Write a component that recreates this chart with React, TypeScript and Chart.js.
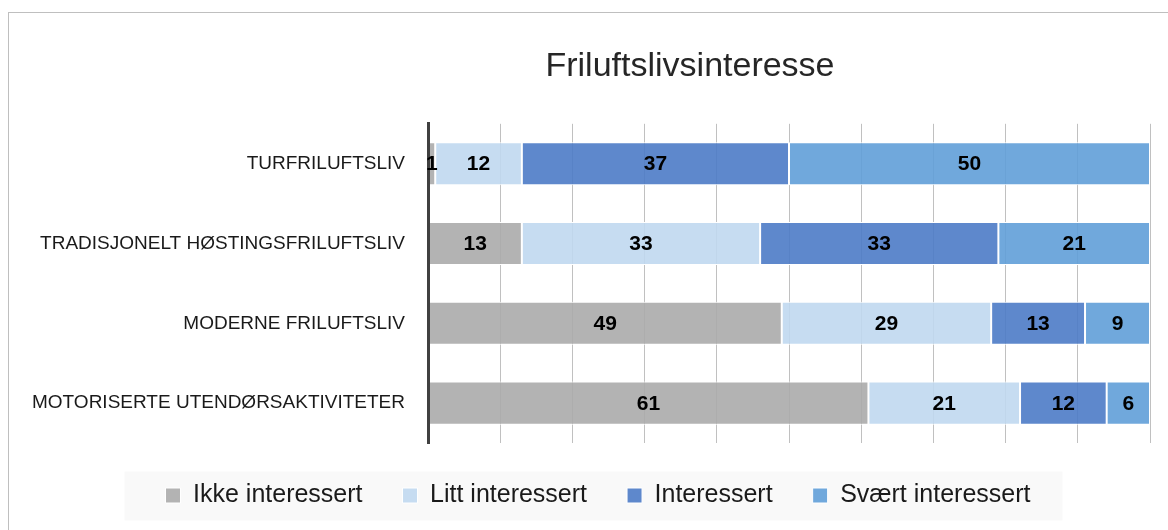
import React, { useEffect, useRef } from "react";
import { Chart, registerables } from "chart.js";

Chart.register(...registerables);

const chartTitle = "Friluftslivsinteresse";
const categories = [
  "TURFRILUFTSLIV",
  "TRADISJONELT HØSTINGSFRILUFTSLIV",
  "MODERNE FRILUFTSLIV",
  "MOTORISERTE UTENDØRSAKTIVITETER",
];
const seriesNames = ["Ikke interessert", "Litt interessert", "Interessert", "Svært interessert"];
const ikkeInteressert = [1, 13, 49, 61];
const littInteressert = [12, 33, 29, 21];
const interessert = [37, 33, 13, 12];
const svaertInteressert = [50, 21, 9, 6];
const seriesColors = [
  "rgba(171,171,171,0.9)",
  "rgba(192,216,239,0.9)",
  "rgba(77,123,198,0.9)",
  "rgba(97,159,216,0.9)",
];

const FONT = "'Liberation Sans', Arial, sans-serif";

const valueLabels = {
  id: "valueLabels",
  afterDraw(chart: any) {
    const ctx = chart.ctx;
    ctx.save();
    ctx.font = `bold 21px ${FONT}`;
    ctx.fillStyle = "#000";
    ctx.textAlign = "center";
    ctx.textBaseline = "middle";
    chart.data.datasets.forEach((ds: any, i: number) => {
      const meta = chart.getDatasetMeta(i);
      meta.data.forEach((bar: any, j: number) => {
        const p = bar.getProps(["x", "base", "y"], true);
        ctx.fillText(String(ds.data[j]), (p.x + p.base) / 2, p.y + 1);
      });
    });
    ctx.restore();
  },
};

const layoutShift = {
  id: "layoutShift",
  afterLayout(chart: any) {
    const t = chart.titleBlock;
    if (t) {
      const dx = 690 - (t.left + t.right) / 2;
      t.left += dx;
      t.right += dx;
    }
    const l = chart.legend;
    if (l) {
      const dx = 598 - (l.left + l.right) / 2;
      l.left += dx;
      l.right += dx;
    }
  },
};

const legendBg = {
  id: "legendBg",
  beforeDraw(chart: any) {
    const l = chart.legend;
    if (!l || !l.legendHitBoxes || !l.legendHitBoxes.length) return;
    const hb = l.legendHitBoxes;
    const first = hb[0];
    const last = hb[hb.length - 1];
    const cy = first.top + first.height / 2;
    const ctx = chart.ctx;
    ctx.save();
    ctx.fillStyle = "#f9f9f9";
    const left = first.left - 41;
    const right = last.left + last.width + 32;
    ctx.fillRect(left, cy - 24, right - left, 49);
    ctx.restore();
  },
};

export default function App() {
  const ref = useRef<HTMLCanvasElement | null>(null);

  useEffect(() => {
    document.body.style.margin = "0";
    const datasets = [ikkeInteressert, littInteressert, interessert, svaertInteressert].map((d, i) => ({
      label: seriesNames[i],
      data: d,
      backgroundColor: seriesColors[i],
      borderColor: "#ffffff",
      borderWidth: 1,
      borderSkipped: false,
      categoryPercentage: 1,
      barPercentage: 0.54,
    }));
    const chart = new Chart(ref.current as HTMLCanvasElement, {
      type: "bar",
      data: { labels: categories, datasets },
      plugins: [layoutShift, legendBg, valueLabels],
      options: {
        indexAxis: "y",
        animation: false,
        responsive: false,
        devicePixelRatio: 1,
        layout: { padding: { top: 0, bottom: 12, left: 0, right: 18 } },
        plugins: {
          tooltip: { enabled: false },
          title: {
            display: true,
            text: chartTitle,
            color: "#262626",
            font: { family: FONT, size: 34, weight: "normal" },
            padding: { top: 46, bottom: 37 },
          },
          legend: {
            position: "bottom",
            labels: {
              color: "#1a1a1a",
              font: { family: FONT, size: 25 },
              boxWidth: 15,
              boxHeight: 15,
              padding: 40,
            },
          },
        },
        scales: {
          x: {
            stacked: true,
            min: 0,
            max: 100,
            ticks: { display: false, stepSize: 10 },
            grid: { color: "#c0c0c0", lineWidth: 1, drawTicks: false },
            border: { display: false },
          },
          y: {
            stacked: true,
            grid: { display: false, drawTicks: false },
            border: { display: true, color: "#404040", width: 3, z: 1 },
            ticks: { color: "#1a1a1a", font: { family: FONT, size: 19 }, padding: 23 },
            afterFit(scale: any) {
              scale.width = 428;
            },
          },
        },
      },
    } as any);
    return () => chart.destroy();
  }, []);

  return (
    <div style={{ position: "relative", width: 1168, height: 530, overflow: "hidden", background: "#fff" }}>
      <div
        style={{
          position: "absolute",
          left: 8,
          top: 12,
          width: 1400,
          height: 800,
          borderLeft: "1px solid #bfbfbf",
          borderTop: "1px solid #bfbfbf",
          boxSizing: "border-box",
        }}
      />
      <canvas ref={ref} width={1168} height={530} style={{ position: "absolute", left: 0, top: 0 }} />
    </div>
  );
}
